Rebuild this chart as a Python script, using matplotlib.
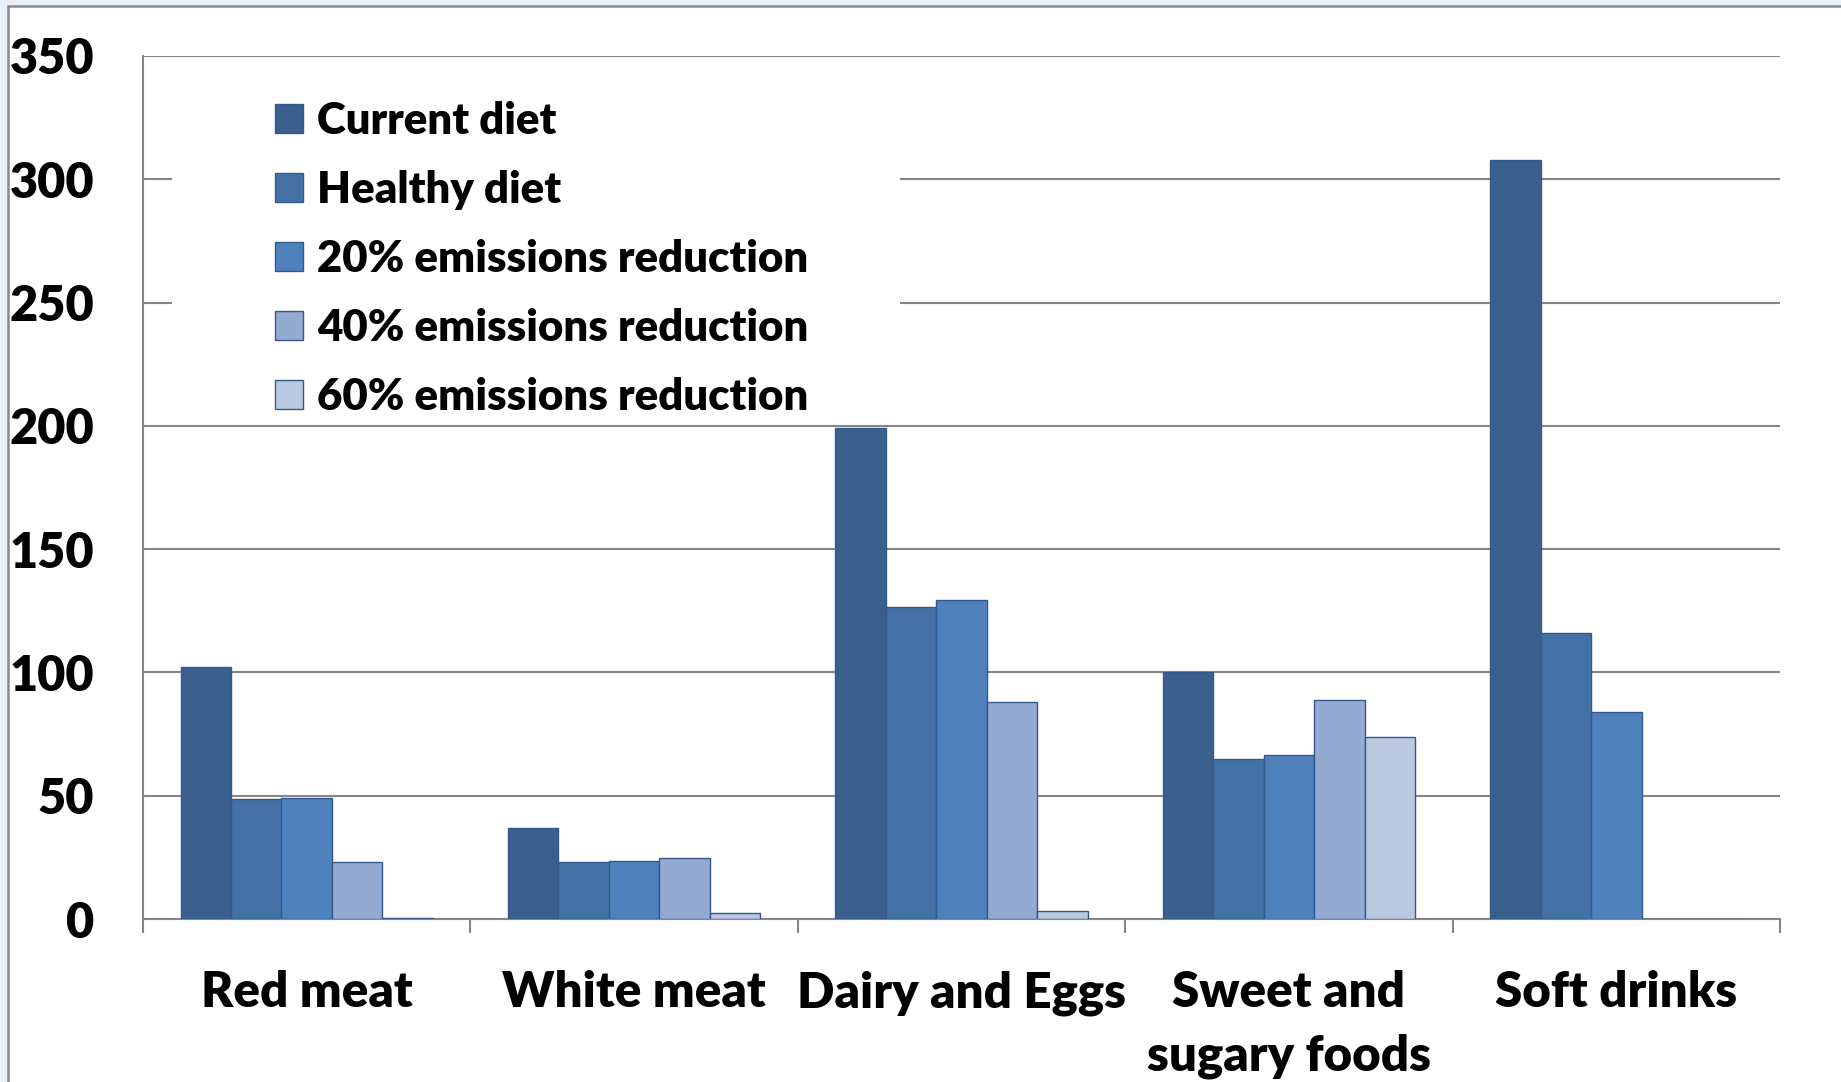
import matplotlib.pyplot as plt
from matplotlib.patches import Rectangle
import numpy as np

plt.rcParams['font.family'] = ['Lato', 'DejaVu Sans']
plt.rcParams['font.weight'] = 'heavy'

categories = ['Red meat', 'White meat', 'Dairy and Eggs', 'Sweet and\nsugary foods', 'Soft drinks']
series = ['Current diet', 'Healthy diet', '20% emissions reduction',
          '40% emissions reduction', '60% emissions reduction']
current_diet = [102, 37, 199, 100, 308]
healthy_diet = [48.5, 23.3, 126.5, 65, 116]
cut_20 = [49, 23.5, 129.5, 66.5, 84]
cut_40 = [23.3, 24.7, 88, 89, 0]
cut_60 = [0.5, 2.5, 3.3, 74, 0]
y_ticks = [0, 50, 100, 150, 200, 250, 300, 350]

colors = ['#3B5F8D', '#4371A5', '#4F81BD', '#95AAD1', '#BAC8E0']

W, H = 1841, 1082
fig = plt.figure(figsize=(W / 100, H / 100), dpi=100)
fig.patch.set_facecolor('#EAF0F7')
# white sheet with grey border behind the chart
sheet = Rectangle((8 / W, -0.1), 1.2, 1 - 6 / H + 0.1, transform=fig.transFigure,
                  facecolor='white', edgecolor='#8A8A8A', linewidth=1.8, zorder=-5)
fig.patches.append(sheet)

ax = fig.add_axes([143 / W, (H - 919) / H, (1780 - 143) / W, (919 - 56) / H])
ax.set_facecolor('none')
ax.set_zorder(2)

x = np.arange(len(categories))
width = 0.154
for j, (name, vals) in enumerate(zip(series, [current_diet, healthy_diet, cut_20, cut_40, cut_60])):
    ax.bar(x + (j - 2) * width, vals, width, color=colors[j], edgecolor='#34598A',
           linewidth=1.0, label=name, zorder=3)

ax.set_ylim(0, 350)
ax.set_xlim(-0.5, len(categories) - 0.5)
ax.set_yticks(y_ticks)
ax.yaxis.grid(True, color='#868686', linewidth=1.5, zorder=0)
ax.set_axisbelow(True)
ax.tick_params(axis='y', length=0, pad=35, labelsize=35)
for lab in ax.get_yticklabels():
    lab.set_fontweight('heavy')

ax.set_xticks(x)
ax.set_xticklabels(categories, fontsize=35.5, fontweight='heavy', linespacing=1.5)
ax.set_xticks(np.arange(len(categories) + 1) - 0.5, minor=True)
ax.tick_params(axis='x', which='major', length=0, pad=37)
ax.tick_params(axis='x', which='minor', length=10, width=1.5, color='#868686')

for side in ['top', 'right']:
    ax.spines[side].set_visible(False)
for side in ['left', 'bottom']:
    ax.spines[side].set_color('#868686')
    ax.spines[side].set_linewidth(1.5)

# white panel under the legend hides the gridlines there
ax.add_patch(Rectangle((0.0177, 0.60), 0.445, 0.385, transform=ax.transAxes,
                       facecolor='white', edgecolor='none', zorder=1))

leg = ax.legend(loc='upper left', bbox_to_anchor=(0.07, 0.968), frameon=False,
                prop={'size': 31.5, 'weight': 'heavy'}, handlelength=0.63, handleheight=0.63,
                handletextpad=0.33, labelspacing=0.66, borderaxespad=0)
leg.set_zorder(5)

fig.savefig('out.png', dpi=100, facecolor=fig.get_facecolor())
